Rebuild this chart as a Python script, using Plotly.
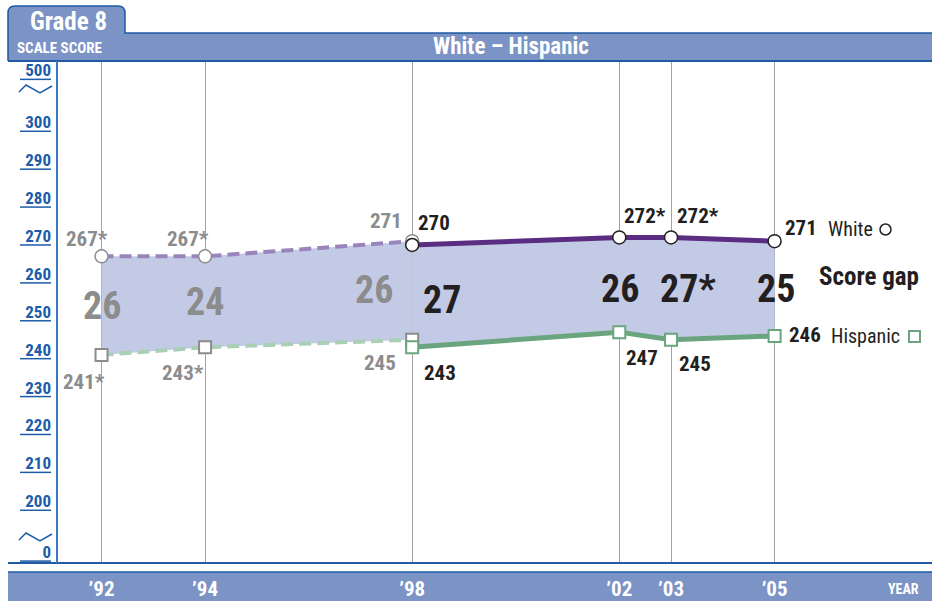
import plotly.graph_objects as go

# ---------------- data ----------------
years_np = [1992, 1994, 1998]          # accommodations not permitted
white_np = [267, 267, 271]
hisp_np = [241, 243, 245]
white_np_lbl = ["267*", "267*", "271"]
hisp_np_lbl = ["241*", "243*", "245"]
gap_np_lbl = ["26", "24", "26"]

years_p = [1998, 2002, 2003, 2005]     # accommodations permitted
white_p = [270, 272, 272, 271]
hisp_p = [243, 247, 245, 246]
white_p_lbl = ["270", "272*", "272*", "271"]
hisp_p_lbl = ["243", "247", "245", "246"]
gap_p_lbl = ["27", "26", "27*", "25"]

x_ticks = [1992, 1994, 1998, 2002, 2003, 2005]
x_ticktext = ["\u201992", "\u201994", "\u201998", "\u201902", "\u201903", "\u201905"]
y_ticks = [186.6, 200, 210, 220, 230, 240, 250, 260, 270, 280, 290, 300, 313.7]
y_ticktext = ["0", "200", "210", "220", "230", "240", "250", "260", "270",
              "280", "290", "300", "500"]

# ---------------- styling ----------------
W, H = 932, 601
ML, MR, MT, MB = 57, 0, 62, 38
PW, PH = W - ML - MR, H - MT - MB
FONT = "Roboto Condensed, Liberation Sans Narrow, Open Sans, sans-serif"
BAND = "#7b93c5"
DARKBLUE = "#1f5aa3"
TICKBLUE = "#1d5ca8"
GREY = "#8c8c8c"
BLACK = "#231f20"
PURPLE = "#5a2d82"
PURPLE_L = "#9a84bc"
GREEN = "#6aa57f"
GREEN_L = "#a9cfb4"
FILL = "#c3cae5"


def px(x):
    return (x - ML) / PW


def py(y):
    return (H - MB - y) / PH


def fnt(size, color, weight="bold"):
    return dict(family=FONT, size=size, color=color, weight=weight)


fig = go.Figure()

# fills
fig.add_trace(go.Scatter(x=years_np, y=hisp_np, mode="lines", line=dict(width=0),
                         hoverinfo="skip", showlegend=False))
fig.add_trace(go.Scatter(x=years_np, y=white_np, mode="lines", line=dict(width=0),
                         fill="tonexty", fillcolor=FILL, hoverinfo="skip", showlegend=False))
fig.add_trace(go.Scatter(x=years_p, y=hisp_p, mode="lines", line=dict(width=0),
                         hoverinfo="skip", showlegend=False))
fig.add_trace(go.Scatter(x=years_p, y=white_p, mode="lines", line=dict(width=0),
                         fill="tonexty", fillcolor=FILL, hoverinfo="skip", showlegend=False))

# dashed (not permitted) lines
fig.add_trace(go.Scatter(x=years_np, y=white_np, mode="lines+markers",
                         line=dict(color=PURPLE_L, width=4, dash="12px,6px"),
                         marker=dict(symbol="circle", size=13, color="white",
                                     line=dict(color=GREY, width=1.5)),
                         showlegend=False))
fig.add_trace(go.Scatter(x=years_np, y=hisp_np, mode="lines+markers",
                         line=dict(color=GREEN_L, width=4, dash="12px,6px"),
                         marker=dict(symbol="square", size=12, color="white",
                                     line=dict(color=GREY, width=2)),
                         showlegend=False))
# solid (permitted) lines
fig.add_trace(go.Scatter(x=years_p, y=white_p, mode="lines+markers",
                         line=dict(color=PURPLE, width=5),
                         marker=dict(symbol="circle", size=13, color="white",
                                     line=dict(color=BLACK, width=1.5)),
                         showlegend=False))
fig.add_trace(go.Scatter(x=years_p, y=hisp_p, mode="lines+markers",
                         line=dict(color=GREEN, width=5),
                         marker=dict(symbol="square", size=12, color="white",
                                     line=dict(color=GREEN, width=2)),
                         showlegend=False))

ann = []


def lab(x, y, text, color, size, xanchor, xshift, yshift, weight="bold"):
    ann.append(dict(x=x, y=y, xref="x", yref="y", text=text, showarrow=False,
                    xanchor=xanchor, yanchor="middle", xshift=xshift, yshift=yshift,
                    font=fnt(size, color, weight)))


# value label offsets (style)
white_np_off = [("right", 8, 17), ("right", 6, 17), ("right", -8, 20)]
hisp_np_off = [("right", 5, -27), ("right", 1, -26), ("right", -14, -23)]
white_p_off = [("left", 4, 22), ("left", 3, 21), ("left", 4, 21), ("left", 8, 13)]
hisp_p_off = [("left", 10, -26), ("left", 5, -26), ("left", 6, -24), ("left", 12, 1)]
gap_np_off = [("center", 0, 0), ("center", 0, 0), ("right", -17, 0)]
gap_p_off = [("left", 9, -4), ("center", 1, -4), ("center", 17, 0), ("center", 1, 0)]

VAL_SIZE = 21
GAP_SIZE = 38

for i, yr in enumerate(years_np):
    a, dx, dy = white_np_off[i]
    lab(yr, white_np[i], white_np_lbl[i], GREY, VAL_SIZE, a, dx, dy)
    a, dx, dy = hisp_np_off[i]
    lab(yr, hisp_np[i], hisp_np_lbl[i], GREY, VAL_SIZE, a, dx, dy)
    a, dx, dy = gap_np_off[i]
    lab(yr, (white_np[i] + hisp_np[i]) / 2, gap_np_lbl[i], GREY, GAP_SIZE, a, dx, dy)

for i, yr in enumerate(years_p):
    a, dx, dy = white_p_off[i]
    lab(yr, white_p[i], white_p_lbl[i], BLACK, VAL_SIZE, a, dx, dy)
    a, dx, dy = hisp_p_off[i]
    lab(yr, hisp_p[i], hisp_p_lbl[i], BLACK, VAL_SIZE, a, dx, dy)
    a, dx, dy = gap_p_off[i]
    lab(yr, (white_p[i] + hisp_p[i]) / 2, gap_p_lbl[i], BLACK, GAP_SIZE, a, dx, dy)


def ptext(x, y, text, color, size, xanchor="center", weight="bold"):
    ann.append(dict(x=px(x), y=py(y), xref="paper", yref="paper", text=text,
                    showarrow=False, xanchor=xanchor, yanchor="middle",
                    font=fnt(size, color, weight)))


# legend-like labels
ptext(826, 229, "White", BLACK, 20, "left", "normal")
ptext(829, 336, "Hispanic", BLACK, 20, "left", "normal")
ptext(869, 276, "Score gap", BLACK, 25)

# header texts
ptext(68, 21, "Grade 8", "white", 25)
ptext(15, 48, "SCALE SCORE", "white", 15, "left")
ptext(511, 46, "White \u2013 Hispanic", "white", 23)
ptext(903, 589, "YEAR", "white", 14)

shapes = []
# legend glyphs
shapes.append(dict(type="circle", xref="paper", yref="paper", x0=px(880), x1=px(891),
                   y0=py(235), y1=py(224), fillcolor="white",
                   line=dict(color=BLACK, width=1.5)))
shapes.append(dict(type="rect", xref="paper", yref="paper", x0=px(909), x1=px(920),
                   y0=py(342), y1=py(331), fillcolor="white",
                   line=dict(color=GREEN, width=2)))
# header band
shapes.append(dict(type="rect", xref="paper", yref="paper", x0=px(8), x1=px(932),
                   y0=py(61), y1=py(33), fillcolor=BAND, line=dict(width=0), layer="below"))
tab = (f"M {px(8)},{py(61)} L {px(8)},{py(13)} Q {px(8)},{py(6)} {px(15)},{py(6)} "
       f"L {px(118)},{py(6)} Q {px(125)},{py(6)} {px(125)},{py(13)} L {px(125)},{py(33)} "
       f"L {px(932)},{py(33)}")
shapes.append(dict(type="path", xref="paper", yref="paper",
                   path=f"M {px(8)},{py(33)} L {px(8)},{py(13)} Q {px(8)},{py(6)} {px(15)},{py(6)} "
                        f"L {px(118)},{py(6)} Q {px(125)},{py(6)} {px(125)},{py(13)} L {px(125)},{py(33)} Z",
                   fillcolor=BAND, line=dict(width=0), layer="below"))
shapes.append(dict(type="path", xref="paper", yref="paper", path=tab,
                   line=dict(color=DARKBLUE, width=1.5)))
shapes.append(dict(type="line", xref="paper", yref="paper", x0=px(8), x1=px(932),
                   y0=py(61), y1=py(61), line=dict(color=DARKBLUE, width=2)))
# bottom band
shapes.append(dict(type="rect", xref="paper", yref="paper", x0=px(8), x1=px(932),
                   y0=py(601), y1=py(572), fillcolor=BAND, line=dict(width=0), layer="below"))
shapes.append(dict(type="line", xref="paper", yref="paper", x0=px(8), x1=px(932),
                   y0=py(572), y1=py(572), line=dict(color=DARKBLUE, width=1.5)))
shapes.append(dict(type="line", xref="paper", yref="paper", x0=px(8), x1=px(932),
                   y0=py(563), y1=py(563), line=dict(color=DARKBLUE, width=2)))
# left axis line
shapes.append(dict(type="line", xref="paper", yref="paper", x0=px(57), x1=px(57),
                   y0=py(563), y1=py(61), line=dict(color="#3a78c0", width=2)))
# tick underlines
for v in y_ticks:
    shapes.append(dict(type="line", xref="paper", yref="y", x0=px(20), x1=px(51),
                       y0=v, y1=v, line=dict(color=TICKBLUE, width=1.5)))
# axis break zigzags
for ys in (0, 448):
    pts = [(19, 92 + ys), (26, 85 + ys), (40, 93 + ys), (52, 86 + ys)]
    path = "M " + " L ".join(f"{px(a)},{py(b)}" for a, b in pts)
    shapes.append(dict(type="path", xref="paper", yref="paper", path=path,
                       line=dict(color=TICKBLUE, width=1.5)))

fig.update_layout(
    width=W, height=H,
    margin=dict(l=ML, r=MR, t=MT, b=MB, pad=0, autoexpand=False),
    paper_bgcolor="white", plot_bgcolor="white",
    showlegend=False,
    annotations=ann, shapes=shapes,
    xaxis=dict(range=[1991.14, 2008.04], tickvals=x_ticks, ticktext=x_ticktext,
               showgrid=True, gridcolor="#a3a3a3", gridwidth=1, zeroline=False,
               showline=False, ticks="", ticklabelstandoff=11, automargin=False,
               tickfont=fnt(21, "white")),
    yaxis=dict(range=[186.09, 318.28], tickvals=y_ticks, ticktext=y_ticktext,
               showgrid=False, zeroline=False, showline=False, ticks="",
               ticklabelshift=-9, ticklabelstandoff=5, automargin=False,
               tickfont=fnt(17, TICKBLUE)),
)

fig.write_html("out.html", config={"displayModeBar": False},
               post_script="document.body.style.margin='0';"
                           "document.body.style.overflow='hidden';")
